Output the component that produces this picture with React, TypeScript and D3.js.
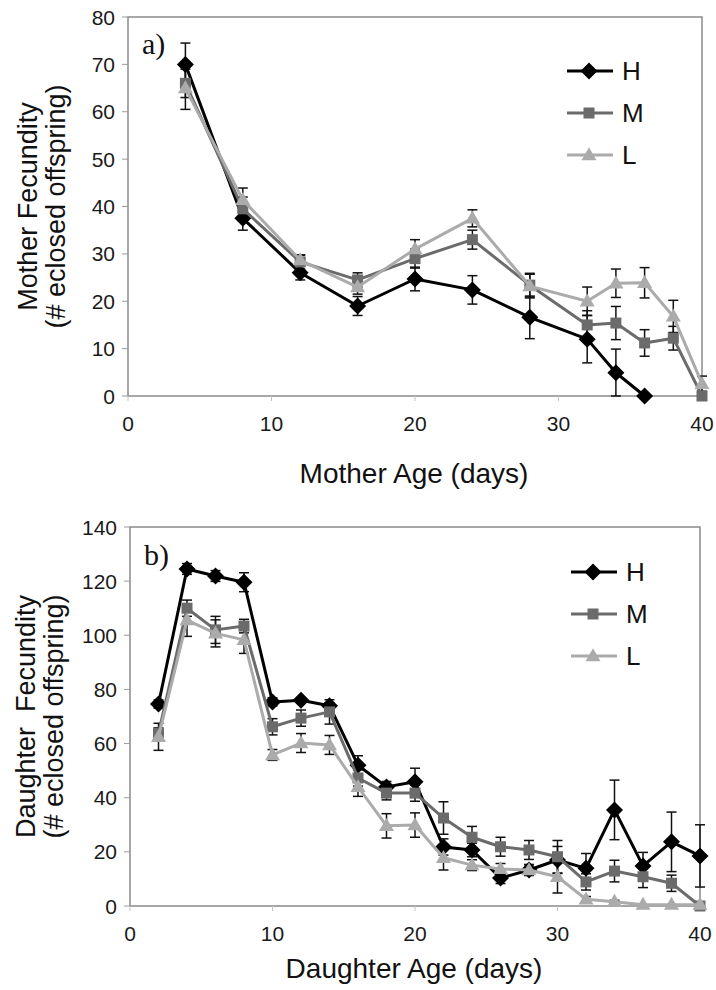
import { useEffect, useRef } from 'react'
import * as d3 from 'd3'

// mother panel (a)
const motherAge = [4, 8, 12, 16, 20, 24, 28, 32, 34, 36, 38, 40]
const motherH = [70, 37.5, 26, 19, 24.7, 22.4, 16.6, 12, 4.9, 0, null, null]
const motherHErr = [4.5, 2.5, 1.5, 2, 2.5, 3, 4.5, 5, 5, 0, null, null]
const motherM = [66, 39.5, 28.3, 24.5, 29, 33, 23.4, 15, 15.4, 11.2, 12.2, 0]
const motherMErr = [3, 2.5, 1.5, 1.5, 2, 2, 2.5, 3, 3.5, 2.8, 2.5, 0]
const motherL = [65, 41.4, 28.7, 23, 31, 37.5, 23.2, 20, 23.8, 23.9, 16.8, 2.6]
const motherLErr = [4.5, 2.5, 1, 1.5, 2, 1.8, 2.5, 3, 3, 3.2, 3.4, 1.6]

// daughter panel (b)
const daughterAge = [2, 4, 6, 8, 10, 12, 14, 16, 18, 20, 22, 24, 26, 28, 30, 32, 34, 36, 38, 40]
const daughterH = [74.6, 124.5, 121.9, 119.6, 75.4, 76, 74, 52, 44, 45.9, 21.8, 20.7, 10.3, 13.3, 17, 13.9, 35.5, 14.8, 23.7, 18.5]
const daughterHErr = [1.5, 2, 2, 3.5, 1.5, 1, 1, 3.5, 2, 5, 3, 2.5, 2, 2, 5, 5.5, 11, 5, 11, 11.5]
const daughterM = [63.8, 110, 102, 103.4, 66.2, 69.4, 71.7, 47.3, 41.7, 41.7, 32.5, 25.4, 21.9, 20.7, 18.2, 8.9, 12.9, 10.8, 8.4, 0]
const daughterMErr = [2, 3, 5, 2.5, 3, 3, 4.5, 3, 2.5, 3, 6, 4, 3.5, 3.5, 6, 3, 4, 4, 3, 0]
const daughterL = [62.5, 105.6, 100.7, 98.3, 55.8, 60.2, 59.5, 44, 29.6, 29.9, 17.8, 15.1, 13.7, 13.3, 10.8, 2.5, 1.6, 0.5, 0.5, 0.5]
const daughterLErr = [5, 6, 5, 5, 2, 3.5, 3.5, 3.5, 4.5, 4.5, 4.5, 2, 2, 2, 6, 1, 0.5, 0, 0, 0]

const groups = ['H', 'M', 'L']
const colors = { H: '#000000', M: '#6b6b6b', L: '#ababab' }
const xTicks = [0, 10, 20, 30, 40]
const motherTicks = [0, 10, 20, 30, 40, 50, 60, 70, 80]
const daughterTicks = [0, 20, 40, 60, 80, 100, 120, 140]

const SANS = "'Liberation Sans', Arial, sans-serif"
const SERIF = "'Liberation Serif', 'Times New Roman', serif"

function marker(sel, key, cx, cy) {
  if (key === 'H') {
    const r = 8.5
    sel.append('path')
      .attr('d', `M${cx},${cy - r}L${cx + r},${cy}L${cx},${cy + r}L${cx - r},${cy}Z`)
      .attr('fill', colors.H)
  } else if (key === 'M') {
    const s = 11
    sel.append('rect').attr('x', cx - s / 2).attr('y', cy - s / 2).attr('width', s).attr('height', s).attr('fill', colors.M)
  } else {
    const w = 15, h = 13
    sel.append('path')
      .attr('d', `M${cx},${cy - h * 0.6}L${cx + w / 2},${cy + h * 0.4}L${cx - w / 2},${cy + h * 0.4}Z`)
      .attr('fill', colors.L)
  }
}

function drawPanel(svg, cfg) {
  const { x0, x1, y0, y1, yMax, yTicks, ages, series, tag, tagX, tagY, xLabel, xLabelY, yLab1, yLab2, yLabX, legend } = cfg
  const x = d3.scaleLinear().domain([0, 40]).range([x0, x1])
  const y = d3.scaleLinear().domain([0, yMax]).range([y0, y1])
  const g = svg.append('g')

  // frame
  g.append('rect').attr('x', x0).attr('y', y1).attr('width', x1 - x0).attr('height', y0 - y1)
    .attr('fill', 'none').attr('stroke', '#8a8a8a').attr('stroke-width', 1.5)

  // y ticks
  yTicks.forEach((t) => {
    g.append('line').attr('x1', x0 - 6).attr('x2', x0).attr('y1', y(t)).attr('y2', y(t)).attr('stroke', '#9a9a9a').attr('stroke-width', 1)
    g.append('text').attr('x', x0 - 13).attr('y', y(t)).attr('dy', '0.36em').attr('text-anchor', 'end')
      .attr('font-family', SANS).attr('font-size', 21).attr('fill', '#1a1a1a').text(t)
  })
  xTicks.forEach((t) => {
    g.append('line').attr('x1', x(t)).attr('x2', x(t)).attr('y1', y0).attr('y2', y0 + 5).attr('stroke', '#c4c4c4').attr('stroke-width', 1)
    g.append('text').attr('x', x(t)).attr('y', y0 + 35).attr('text-anchor', 'middle')
      .attr('font-family', SANS).attr('font-size', 21).attr('fill', '#1a1a1a').text(t)
  })

  // error bars
  series.forEach((s) => {
    ages.forEach((a, i) => {
      const v = s.values[i], e = s.err[i]
      if (v == null || !e) return
      const top = y(v + e), bot = y(Math.max(0, v - e))
      g.append('line').attr('x1', x(a)).attr('x2', x(a)).attr('y1', top).attr('y2', bot).attr('stroke', '#111').attr('stroke-width', 1.5)
      ;[top, bot].forEach((yy) => {
        g.append('line').attr('x1', x(a) - 5).attr('x2', x(a) + 5).attr('y1', yy).attr('y2', yy).attr('stroke', '#111').attr('stroke-width', 1.5)
      })
    })
  })

  // lines + markers
  series.forEach((s) => {
    const pts = ages.map((a, i) => [a, s.values[i]]).filter((p) => p[1] != null)
    const line = d3.line().x((d) => x(d[0])).y((d) => y(d[1]))
    g.append('path').attr('d', line(pts)).attr('fill', 'none').attr('stroke', colors[s.key]).attr('stroke-width', 3).attr('stroke-linejoin', 'round')
    const mg = g.append('g')
    pts.forEach((p) => marker(mg, s.key, x(p[0]), y(p[1])))
  })

  // panel tag
  g.append('text').attr('x', tagX).attr('y', tagY).attr('font-family', SERIF).attr('font-size', 30).attr('fill', '#111').text(tag)

  // legend
  groups.forEach((k, i) => {
    const ly = legend.y + i * 42
    g.append('line').attr('x1', legend.x).attr('x2', legend.x + 46).attr('y1', ly).attr('y2', ly).attr('stroke', colors[k]).attr('stroke-width', 3)
    marker(g, k, legend.x + 22, ly)
    g.append('text').attr('x', legend.x + 55).attr('y', ly).attr('dy', '0.36em')
      .attr('font-family', SANS).attr('font-size', 26).attr('fill', '#111').text(k)
  })

  // axis titles
  g.append('text').attr('x', (x0 + x1) / 2 - 1).attr('y', xLabelY).attr('text-anchor', 'middle')
    .attr('font-family', SANS).attr('font-size', 28).attr('fill', '#111').text(xLabel)
  const cy = (y0 + y1) / 2
  ;[yLab1, yLab2].forEach((txt, i) => {
    g.append('text').attr('transform', `translate(${yLabX[i]},${cy}) rotate(-90)`).attr('text-anchor', 'middle').attr('dy', '0.35em')
      .attr('font-family', SANS).attr('font-size', 27).attr('fill', '#111').style('white-space', 'pre').text(txt)
  })
}

export default function App() {
  const ref = useRef(null)

  useEffect(() => {
    if (!ref.current) return
    const svg = d3.select(ref.current)
    svg.selectAll('*').remove()

    drawPanel(svg, {
      x0: 128, x1: 702, y0: 396, y1: 17, yMax: 80, yTicks: motherTicks, ages: motherAge,
      series: [
        { key: 'H', values: motherH, err: motherHErr },
        { key: 'M', values: motherM, err: motherMErr },
        { key: 'L', values: motherL, err: motherLErr },
      ],
      tag: 'a)', tagX: 142, tagY: 54,
      xLabel: 'Mother Age (days)', xLabelY: 483,
      yLab1: 'Mother Fecundity', yLab2: '(# eclosed offspring)', yLabX: [28, 56],
      legend: { x: 567, y: 71 },
    })

    drawPanel(svg, {
      x0: 130, x1: 700, y0: 906, y1: 527, yMax: 140, yTicks: daughterTicks, ages: daughterAge,
      series: [
        { key: 'H', values: daughterH, err: daughterHErr },
        { key: 'M', values: daughterM, err: daughterMErr },
        { key: 'L', values: daughterL, err: daughterLErr },
      ],
      tag: 'b)', tagX: 144, tagY: 565,
      xLabel: 'Daughter Age (days)', xLabelY: 978,
      yLab1: 'Daughter  Fecundity', yLab2: '(# eclosed offspring)', yLabX: [26, 54],
      legend: { x: 571, y: 572 },
    })
  }, [])

  return (
    <svg ref={ref} width={716} height={990} style={{ position: 'absolute', left: 0, top: 0, background: '#fff' }} />
  )
}
